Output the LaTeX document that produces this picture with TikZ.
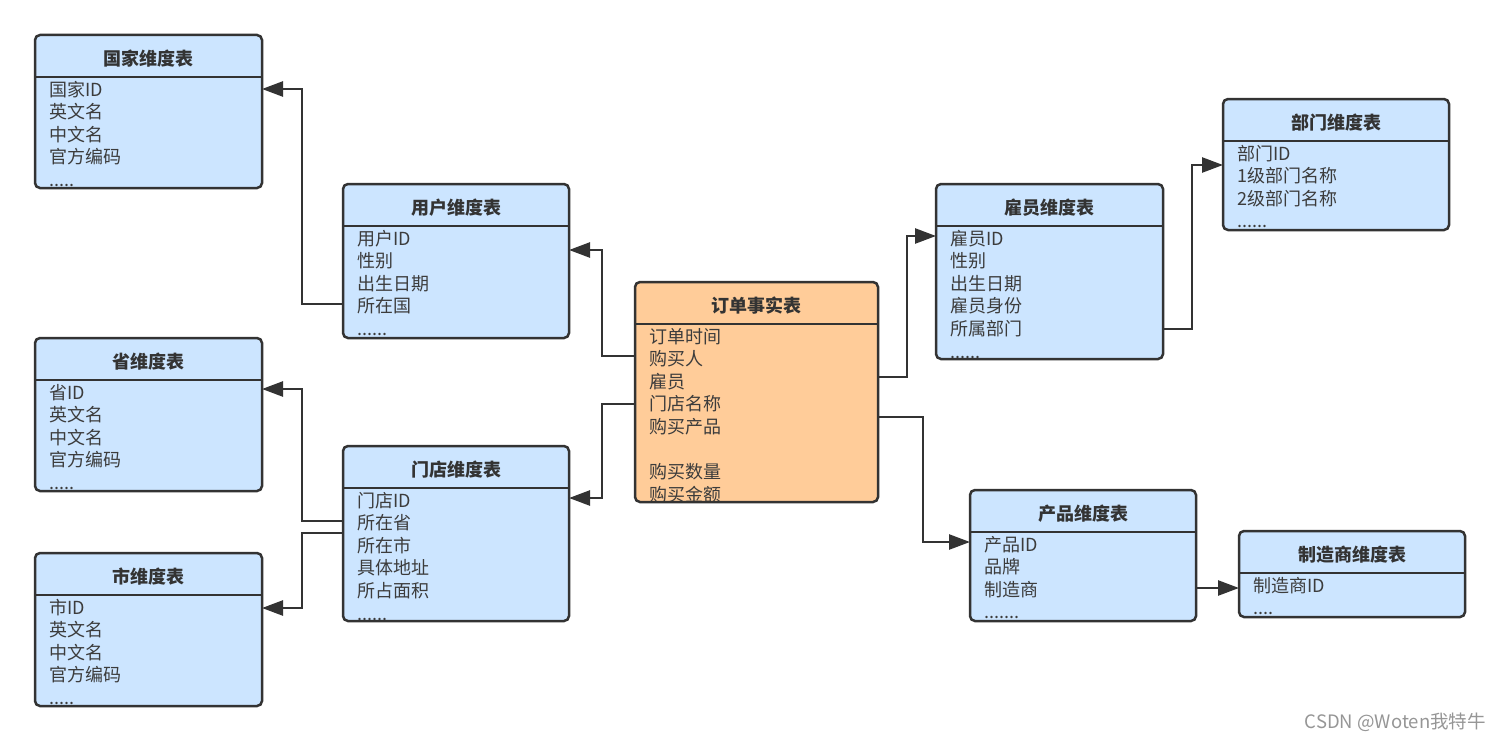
\documentclass[tikz,border=0pt]{standalone}
\usepackage{fontspec}
\setmainfont{Noto Sans CJK SC}
\usetikzlibrary{calc,arrows.meta}
\definecolor{bluefill}{RGB}{204,229,255}
\definecolor{orangefill}{RGB}{255,204,153}
\definecolor{edge}{RGB}{51,51,51}
\definecolor{rowtext}{RGB}{60,60,60}
\definecolor{wmgray}{RGB}{150,150,150}
\newcommand\dfour{....}
\newcommand\dfive{.....}
\newcommand\dsix{......}
\newcommand\dseven{.......}
\tikzset{
  tbl/.style={rectangle, rounded corners=5bp, anchor=north west, inner sep=0pt, outer sep=0pt},
  tborder/.style={draw=edge, line width=2.5bp, rounded corners=5bp},
  tline/.style={draw=edge, line width=2.5bp},
  ttl/.style={font=\fontsize{18bp}{20bp}\selectfont\bfseries, text=edge, inner sep=0pt},
  rowt/.style={font=\fontsize{18bp}{20bp}\selectfont, text=rowtext, anchor=base west, inner sep=0pt},
  conn/.style={draw=edge, line width=2.5bp, -{Triangle[length=21bp,width=15bp]}},
  wm/.style={font=\fontsize{18.5bp}{20bp}\selectfont, text=wmgray, inner sep=0pt}
}
\newcommand\dimtable[8]{%
  \node[tbl, fill=#6, minimum width=#4bp, minimum height=#5bp] (#1) at (#2,#3) {};
  \draw[tline] ($(#1.north west)+(0,42)$) -- ($(#1.north east)+(0,42)$);
  \node[ttl] (#1-t) at ($(#1.north)+(0,23.5)$) {#7};
  \foreach \t [count=\i from 0] in {#8} {
    \node[rowt] (#1-r\i) at ($(#1.north west)+(14,61+22.6*\i)$) {\t};
  }
  \draw[tborder] (#1.north west) rectangle (#1.south east);
}
\begin{document}
\begin{tikzpicture}[x=1bp,y=-1bp]
\useasboundingbox[fill=white] (0,0) rectangle (1500,742);
\dimtable{country}{35}{35}{227}{153}{bluefill}{国家维度表}{国家ID,英文名,中文名,官方编码,\dfive}
\dimtable{user}{343}{184}{226}{154}{bluefill}{用户维度表}{用户ID,性别,出生日期,所在国,\dsix}
\dimtable{prov}{35}{338}{227}{153}{bluefill}{省维度表}{省ID,英文名,中文名,官方编码,\dfive}
\dimtable{city}{35}{553}{227}{153}{bluefill}{市维度表}{市ID,英文名,中文名,官方编码,\dfive}
\dimtable{store}{343}{446}{226}{175}{bluefill}{门店维度表}{门店ID,所在省,所在市,具体地址,所占面积,\dsix}
\dimtable{order}{635}{282}{243}{220}{orangefill}{订单事实表}{订单时间,购买人,雇员,门店名称,购买产品,{},购买数量,购买金额}
\dimtable{emp}{936}{184}{227}{175}{bluefill}{雇员维度表}{雇员ID,性别,出生日期,雇员身份,所属部门,\dsix}
\dimtable{dept}{1223}{99}{226}{131}{bluefill}{部门维度表}{部门ID,1级部门名称,2级部门名称,\dsix}
\dimtable{prod}{970}{490}{226}{131}{bluefill}{产品维度表}{产品ID,品牌,制造商,\dseven}
\dimtable{mfr}{1239}{531}{226}{86}{bluefill}{制造商维度表}{制造商ID,\dfour}
% connectors
\draw[conn] ($(user.north west)+(0,120)$) -- ++(-41,0) |- ($(country.north east)+(0,54)$);
\draw[conn] ($(order.north west)+(0,74)$) -- ++(-33,0) |- ($(user.north east)+(0,66)$);
\draw[conn] ($(order.north west)+(0,122)$) -- ++(-33,0) |- ($(store.north east)+(0,52)$);
\draw[conn] ($(store.north west)+(0,75)$) -- ++(-41,0) |- ($(prov.north east)+(0,51)$);
\draw[conn] ($(store.north west)+(0,87)$) -- ++(-41,0) |- ($(city.north east)+(0,55)$);
\draw[conn] ($(order.north east)+(0,95)$) -- ++(29,0) |- ($(emp.north west)+(0,52)$);
\draw[conn] ($(emp.north east)+(0,145)$) -- ++(29,0) |- ($(dept.north west)+(0,66)$);
\draw[conn] ($(order.north east)+(0,135)$) -- ++(45,0) |- ($(prod.north west)+(0,52)$);
\draw[conn] ($(prod.north east)+(0,98)$) -- ($(mfr.north west)+(0,57)$);
\node[wm, anchor=east] (wm) at (1486,722) {CSDN @Woten我特牛};
\end{tikzpicture}
\end{document}
